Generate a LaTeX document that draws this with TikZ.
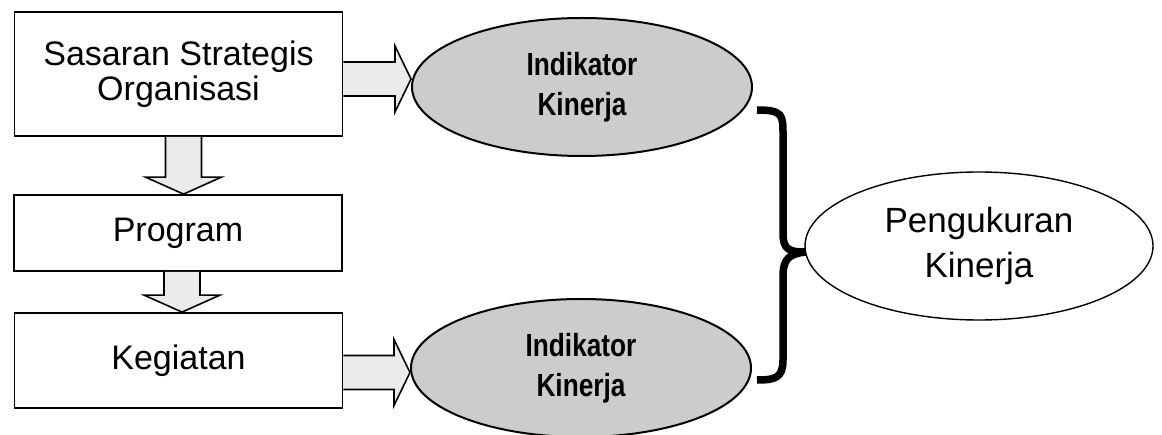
\documentclass[tikz,border=0pt]{standalone}
\usepackage{fontspec}
\setmainfont{Liberation Sans}
\newfontfamily\narrowbold{Liberation Sans}[FakeStretch=0.82]
\usetikzlibrary{shapes.geometric,calc}
\begin{document}
\begin{tikzpicture}[x=1pt,y=-1pt,
  box/.style={draw, line width=1.8pt, minimum width=328pt, inner sep=0pt, align=center,
    font=\fontsize{34}{35}\selectfont},
  indik/.style={ellipse, draw, line width=2pt, fill=black!20, minimum width=340pt,
    minimum height=138pt, inner sep=0pt, align=center,
    font=\narrowbold\bfseries\fontsize{32}{40}\selectfont},
  ukur/.style={ellipse, draw, line width=1.4pt, fill=white, minimum width=348pt,
    minimum height=148pt, inner sep=0pt, align=center, font=\fontsize{35}{45}\selectfont},
  blockarrow/.style={draw, line width=1.6pt, fill=black!8, line join=miter},
  bracestyle/.style={draw, line width=7.5pt, line cap=butt}
]
\useasboundingbox (0,0) rectangle (1162,435);

% boxes
\node[box, minimum height=124pt] (s) at (178.5,74) {Sasaran Strategis\\Organisasi};
\node[box, minimum height=76pt]  (p) at (178,233) {Program};
\node[box, minimum height=95pt]  (k) at (178.5,360.5) {Kegiatan};

% indicator ellipses
\node[indik] (i1) at (582,87) {Indikator\\Kinerja};
\node[indik] (i2) at (581,368) {Indikator\\Kinerja};

% measurement ellipse
\node[ukur] (pk) at (979,246) {Pengukuran\\Kinerja};

% down block arrows
\draw[blockarrow] let \p1=(s.south), \p2=(p.north) in
  (\x1+5pt-18pt,\y1) -- (\x1+5pt-18pt,\y2+17pt) -- (\x1+5pt-38pt,\y2+17pt)
  -- (\x1+5pt,\y2) -- (\x1+5pt+38pt,\y2+17pt) -- (\x1+5pt+18pt,\y2+17pt)
  -- (\x1+5pt+18pt,\y1);
\draw[blockarrow] let \p1=(p.south), \p2=(k.north) in
  (\x1+4pt-18pt,\y1) -- (\x1+4pt-18pt,\y2+17pt) -- (\x1+4pt-38pt,\y2+17pt)
  -- (\x1+4pt,\y2) -- (\x1+4pt+38pt,\y2+17pt) -- (\x1+4pt+18pt,\y2+17pt)
  -- (\x1+4pt+18pt,\y1);

% right block arrows
\draw[blockarrow] let \p1=(s.east), \p2=(i1.west) in
  (\x1,\y1-5pt+17pt) -- (\x2-16pt,\y1-5pt+17pt) -- (\x2-16pt,\y1-5pt+33pt)
  -- (\x2,\y1-5pt) -- (\x2-16pt,\y1-5pt-33pt) -- (\x2-16pt,\y1-5pt-17pt)
  -- (\x1,\y1-5pt-17pt);
\draw[blockarrow] let \p1=(k.east), \p2=(i2.west) in
  (\x1,\y1-12pt+17pt) -- (\x2-16pt,\y1-12pt+17pt) -- (\x2-16pt,\y1-12pt+33pt)
  -- (\x2,\y1-12pt) -- (\x2-16pt,\y1-12pt-33pt) -- (\x2-16pt,\y1-12pt-17pt)
  -- (\x1,\y1-12pt-17pt);

% brace
\coordinate (btop) at (757,110);
\coordinate (btip) at ($(pk.west)+(1,6)$);
\coordinate (bbot) at (757,380);
\draw[bracestyle] (btop) .. controls (783,110) and (783,115) .. (783,135)
  -- (783,234) .. controls (783,250) and (790,252) .. (btip)
  .. controls (790,254) and (783,258) .. (783,276)
  -- (783,360) .. controls (783,378) and (775,380) .. (bbot);
\end{tikzpicture}
\end{document}
